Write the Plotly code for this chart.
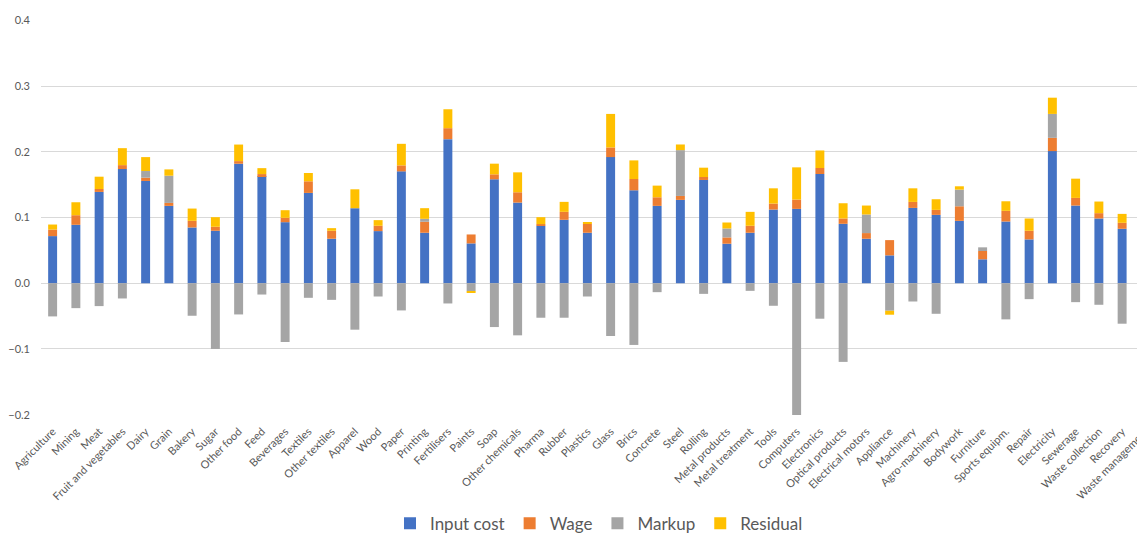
import plotly.graph_objects as go

categories = ["Agriculture", "Mining", "Meat", "Fruit and vegetables", "Dairy", "Grain", "Bakery",
              "Sugar", "Other food", "Feed", "Beverages", "Textiles", "Other textiles", "Apparel",
              "Wood", "Paper", "Printing", "Fertilisers", "Paints", "Soap", "Other chemicals",
              "Pharma", "Rubber", "Plastics", "Glass", "Brics", "Concrete", "Steel", "Rolling",
              "Metal products", "Metal treatment", "Tools", "Computers", "Electronics",
              "Optical products", "Electrical motors", "Appliance", "Machinery", "Agro-machinery",
              "Bodywork", "Furniture", "Sports equipm.", "Repair", "Electricity", "Sewerage",
              "Waste collection", "Recovery", "Waste management"]

input_cost = [0.0717, 0.0889, 0.1389, 0.1737, 0.1556, 0.1177, 0.0848, 0.0798, 0.1818, 0.1631,
              0.0929, 0.1374, 0.0677, 0.1141, 0.0793, 0.1702, 0.0768, 0.2192, 0.0606, 0.1581,
              0.1227, 0.0874, 0.0965, 0.0768, 0.1919, 0.1414, 0.1177, 0.1268, 0.1571, 0.0601,
              0.0768, 0.1121, 0.1131, 0.1662, 0.0904, 0.0677, 0.0424, 0.1146, 0.1040, 0.0949,
              0.0364, 0.0939, 0.0667, 0.2010, 0.1182, 0.0985, 0.0828, 0.0768]

wage = [0.0100, 0.0146, 0.0045, 0.0060, 0.0050, 0.0045, 0.0101, 0.0061, 0.0040, 0.0030,
        0.0066, 0.0177, 0.0121, 0.0000, 0.0081, 0.0091, 0.0167, 0.0167, 0.0136, 0.0076,
        0.0157, 0.0025, 0.0121, 0.0136, 0.0147, 0.0172, 0.0131, 0.0060, 0.0045, 0.0096,
        0.0106, 0.0091, 0.0142, 0.0091, 0.0081, 0.0086, 0.0232, 0.0091, 0.0076, 0.0222,
        0.0126, 0.0162, 0.0131, 0.0202, 0.0116, 0.0081, 0.0091, 0.0172]

markup = [-0.0505, -0.0379, -0.0348, -0.0232, 0.0101, 0.0414, -0.0495, -0.1000, -0.0475, -0.0172,
          -0.0894, -0.0222, -0.0253, -0.0707, -0.0202, -0.0414, 0.0045, -0.0308, -0.0121, -0.0667,
          -0.0793, -0.0525, -0.0525, -0.0202, -0.0803, -0.0939, -0.0136, 0.0697, -0.0162, 0.0136,
          -0.0116, -0.0343, -0.2020, -0.0540, -0.1197, 0.0283, -0.0419, -0.0278, -0.0465, 0.0253,
          0.0056, -0.0550, -0.0242, 0.0364, -0.0288, -0.0328, -0.0616, 0.0581]

residual = [0.0076, 0.0197, 0.0187, 0.0258, 0.0212, 0.0096, 0.0187, 0.0146, 0.0252, 0.0090,
            0.0116, 0.0126, 0.0040, 0.0288, 0.0086, 0.0328, 0.0162, 0.0288, -0.0020, 0.0162,
            0.0303, 0.0106, 0.0152, 0.0025, 0.0510, 0.0283, 0.0177, 0.0086, 0.0142, 0.0091,
            0.0212, 0.0232, 0.0490, 0.0267, 0.0232, 0.0136, -0.0060, 0.0207, 0.0162, 0.0051,
            0.0000, 0.0146, 0.0187, 0.0247, 0.0293, 0.0177, 0.0136, 0.0136]

series = [("Input cost", input_cost, "#4472C4"),
          ("Wage", wage, "#ED7D31"),
          ("Markup", markup, "#A5A5A5"),
          ("Residual", residual, "#FFC000")]

font = "Lato, 'Open Sans', sans-serif"
grey = "#595959"

fig = go.Figure()
for name, vals, col in series:
    fig.add_trace(go.Bar(x=categories, y=vals, name=name,
                         marker=dict(color=col, line=dict(width=0))))

fig.update_layout(
    width=1149, height=535,
    barmode="relative", bargap=0.615,
    plot_bgcolor="white", paper_bgcolor="white",
    margin=dict(l=33, r=0, t=12, b=128),
    font=dict(family=font, color=grey),
    legend=dict(orientation="h", x=0.5, xanchor="center", y=-0.275, yanchor="middle",
                font=dict(size=17, color=grey), traceorder="normal", itemwidth=30),
    showlegend=True,
)
fig.update_yaxes(range=[-0.2005, 0.4005], dtick=0.1, tickformat=".1f", showgrid=True,
                 gridcolor="#D9D9D9", gridwidth=1, zeroline=False, showline=False,
                 tickfont=dict(size=11, color=grey), ticklabelstandoff=10)
fig.update_xaxes(type="category", range=[-0.5, 47.5], tickangle=-45, showgrid=False,
                 zeroline=False, showline=False,
                 tickfont=dict(size=11, color=grey), ticklabelstandoff=7)

fig.write_html("out.html")
